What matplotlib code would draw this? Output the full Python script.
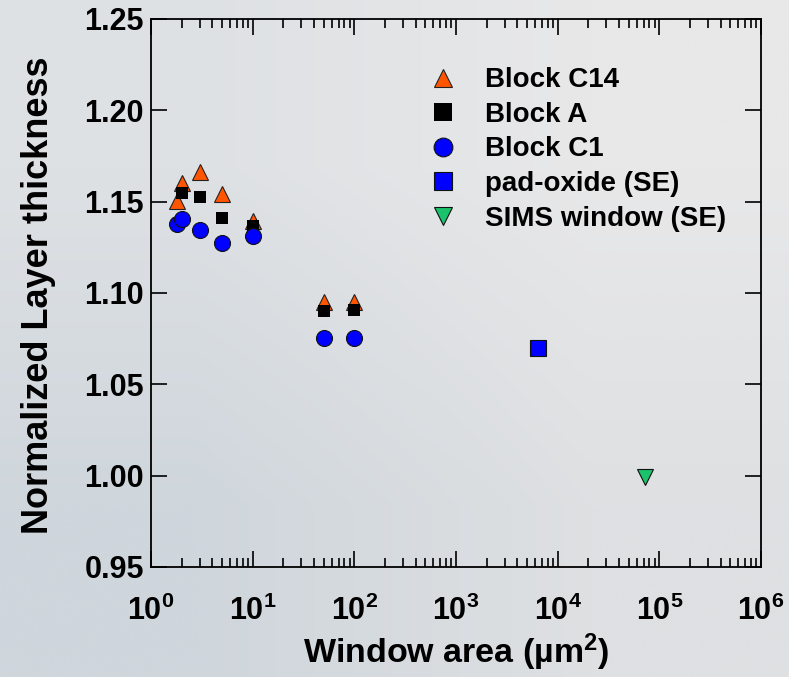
import numpy as np
import matplotlib
matplotlib.use("Agg")
import matplotlib.pyplot as plt
from matplotlib.ticker import LogLocator, NullFormatter, FixedLocator

plt.rcParams['font.family'] = ['Liberation Sans', 'DejaVu Sans']
plt.rcParams['font.weight'] = 'bold'
plt.rcParams['mathtext.fontset'] = 'custom'
plt.rcParams['mathtext.rm'] = 'Liberation Sans:bold'
plt.rcParams['mathtext.bf'] = 'Liberation Sans:bold'
plt.rcParams['mathtext.it'] = 'Liberation Sans:bold:italic'

# data
c14_x = [1.8, 2, 3, 5, 10, 50, 100]
c14_y = [1.1505, 1.160, 1.166, 1.154, 1.1396, 1.0949, 1.0952]
a_x = [2, 3, 5, 10, 50, 100]
a_y = [1.155, 1.1524, 1.1409, 1.1367, 1.090, 1.0906]
c1_x = [1.8, 2, 3, 5, 10, 50, 100]
c1_y = [1.1376, 1.1406, 1.1345, 1.1275, 1.1314, 1.0756, 1.0756]
pad_x = [6400]
pad_y = [1.070]
sims_x = [7.3e4]
sims_y = [0.9990]

W, H = 789, 677
fig = plt.figure(figsize=(W / 100, H / 100), dpi=100)

# slide-like gradient background
bg = fig.add_axes([0, 0, 1, 1], zorder=-5)
corners = np.array([[[222, 225, 228], [232, 232, 233]],
                    [[207, 214, 220], [222, 224, 226]]]) / 255.0
bg.imshow(corners, extent=[0, 1, 0, 1], aspect='auto', interpolation='bilinear')
bg.axis('off')

ax = fig.add_axes([151 / W, 1 - 567 / H, 610 / W, 548 / H])
ax.set_facecolor('none')

ax.plot(c14_x, c14_y, ls='none', marker='^', ms=12, mfc='#ff5500', mec='#222222', mew=0.8,
        label='Block C14', zorder=3)
ax.plot(a_x, a_y, ls='none', marker='s', ms=8.5, mfc='black', mec='black', mew=0,
        label='Block A', zorder=4)
ax.plot(c1_x, c1_y, ls='none', marker='o', ms=11.5, mfc='#0000ff', mec='#111111', mew=0.8,
        label='Block C1', zorder=5)
ax.plot(pad_x, pad_y, ls='none', marker='s', ms=11, mfc='#0000ff', mec='#111111', mew=0.8,
        label='pad-oxide (SE)', zorder=5)
ax.plot(sims_x, sims_y, ls='none', marker='v', ms=11.5, mfc='#19c26b', mec='#111111', mew=0.8,
        label='SIMS window (SE)', zorder=5)

ax.set_xscale('log')
ax.set_xlim(1, 1e6)
ax.set_ylim(0.95, 1.25)
ax.xaxis.set_major_locator(LogLocator(base=10, numticks=10))
ax.xaxis.set_minor_locator(LogLocator(base=10, subs=np.arange(2, 10), numticks=20))
ax.xaxis.set_minor_formatter(NullFormatter())
ax.yaxis.set_major_locator(FixedLocator([0.95, 1.00, 1.05, 1.10, 1.15, 1.20, 1.25]))
ax.set_yticklabels(['0.95', '1.00', '1.05', '1.10', '1.15', '1.20', '1.25'])

ax.tick_params(which='both', direction='in', top=True, right=True, width=1.2, color='black')
ax.tick_params(which='major', length=11.5)
ax.tick_params(which='minor', length=6.5)
ax.tick_params(axis='y', labelsize=22, pad=5)
ax.tick_params(axis='x', labelsize=22, pad=21)
for s in ax.spines.values():
    s.set_linewidth(1.3)

ax.set_xlabel(r'Window area (µm$^{2}$)', fontsize=24.5, fontweight='bold', labelpad=3)
ax.set_ylabel('Normalized Layer thickness', fontsize=26, fontweight='bold')
ax.yaxis.set_label_coords(-0.155, 0.495)

leg = ax.legend(loc='upper left', bbox_to_anchor=(0.456, 0.912), frameon=False,
                fontsize=20, handlelength=1.0, handletextpad=1.0, labelspacing=0.31,
                borderpad=0, borderaxespad=0, numpoints=1)
for h in leg.legend_handles:
    h.set_markersize(13.5)

fig.savefig('out.png', dpi=100)
